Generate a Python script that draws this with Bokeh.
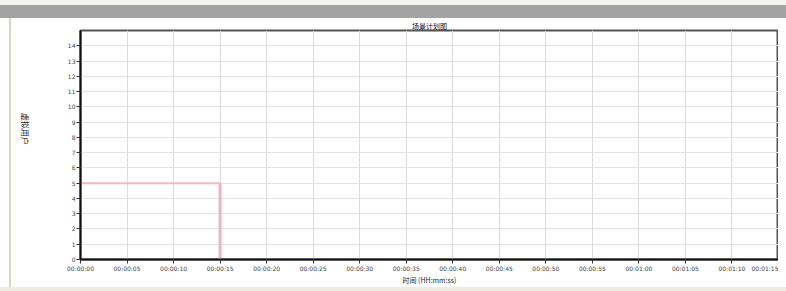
import math
from bokeh.plotting import figure
from bokeh.layouts import column, row
from bokeh.models import Div, FixedTicker, Range1d
from bokeh.embed import file_html
from bokeh.resources import INLINE

# data
time_s = [0, 0, 15, 15]
users = [0, 5, 5, 0]
x_ticks = [0, 5, 10, 15, 20, 25, 30, 35, 40, 45, 50, 55, 60, 65, 70, 75]
x_labels = ["00:00:00", "00:00:05", "00:00:10", "00:00:15", "00:00:20", "00:00:25",
            "00:00:30", "00:00:35", "00:00:40", "00:00:45", "00:00:50", "00:00:55",
            "00:01:00", "00:01:05", "00:01:10", "00:01:15"]
y_ticks = list(range(0, 15))
y_title = "虚拟用户"
x_title = "时间 (HH:mm:ss)"
chart_title = "场景计划图"

FONT = "DejaVu Sans"
CJK = "Noto Sans CJK SC"
FIG_H = 269

p = figure(width=767, height=FIG_H, output_backend="svg", toolbar_location=None,
           x_range=Range1d(0, 75), y_range=Range1d(0, 15),
           min_border_left=69, min_border_right=0, min_border_top=11, min_border_bottom=25)
p.title.text = chart_title
p.title.align = "center"
p.title.text_font = CJK
p.title.text_font_size = "7px"
p.title.text_font_style = "normal"
p.title.text_color = "#111111"
p.title.standoff = 0
p.title.offset = 0

p.background_fill_color = "white"
p.border_fill_color = "white"
p.outline_line_color = "#555555"
p.outline_line_width = 2

p.xaxis.ticker = FixedTicker(ticks=x_ticks)
p.xaxis.major_label_overrides = {t: l for t, l in zip(x_ticks, x_labels)}
p.yaxis.ticker = FixedTicker(ticks=y_ticks)
for ax in (p.xaxis[0], p.yaxis[0]):
    ax.axis_line_color = "#111111"
    ax.axis_line_width = 2
    ax.major_tick_in = 0
    ax.major_tick_out = 4
    ax.major_tick_line_color = "#333333"
    ax.minor_tick_line_color = None
    ax.major_label_text_font = FONT
    ax.major_label_text_font_size = "6px"
    ax.major_label_text_color = "#444444"
    ax.major_label_standoff = 1
    ax.axis_label_text_font = CJK
    ax.axis_label_text_font_size = "7px"
    ax.axis_label_text_font_style = "normal"
    ax.axis_label_text_color = "#222222"
p.xaxis.axis_label = x_title
p.xaxis.axis_label_standoff = 0
p.yaxis.axis_label = y_title
p.yaxis.axis_label_text_font_size = "8px"
p.yaxis.axis_label_standoff = 39
p.yaxis[0].axis_label_orientation = -math.pi / 2

p.xgrid.grid_line_color = "#dddddd"
p.ygrid.grid_line_color = "#e4e4e4"

p.line(time_s[:3], users[:3], line_color="#f4b6c0", line_width=2)
p.line(time_s[2:], users[2:], line_color="#f4b0bc", line_width=3)

topgap = Div(width=786, height=5, styles={"background-color": "#f4f4f0", "margin": "0"})
topbar = Div(width=786, height=13, styles={"background-color": "#a3a3a3", "margin": "0"})
leftgap = Div(width=9, height=FIG_H, styles={"background-color": "#ffffff", "margin": "0"})
leftbar = Div(width=2, height=FIG_H, styles={"background-color": "#d8d5c2", "margin": "0"})
bottombar = Div(width=786, height=4, styles={"background-color": "#ecece2", "margin": "0"})
layout = column(topgap, topbar, row(leftgap, leftbar, p, spacing=0), bottombar, spacing=0)

open("out.html", "w").write(file_html(layout, INLINE))
